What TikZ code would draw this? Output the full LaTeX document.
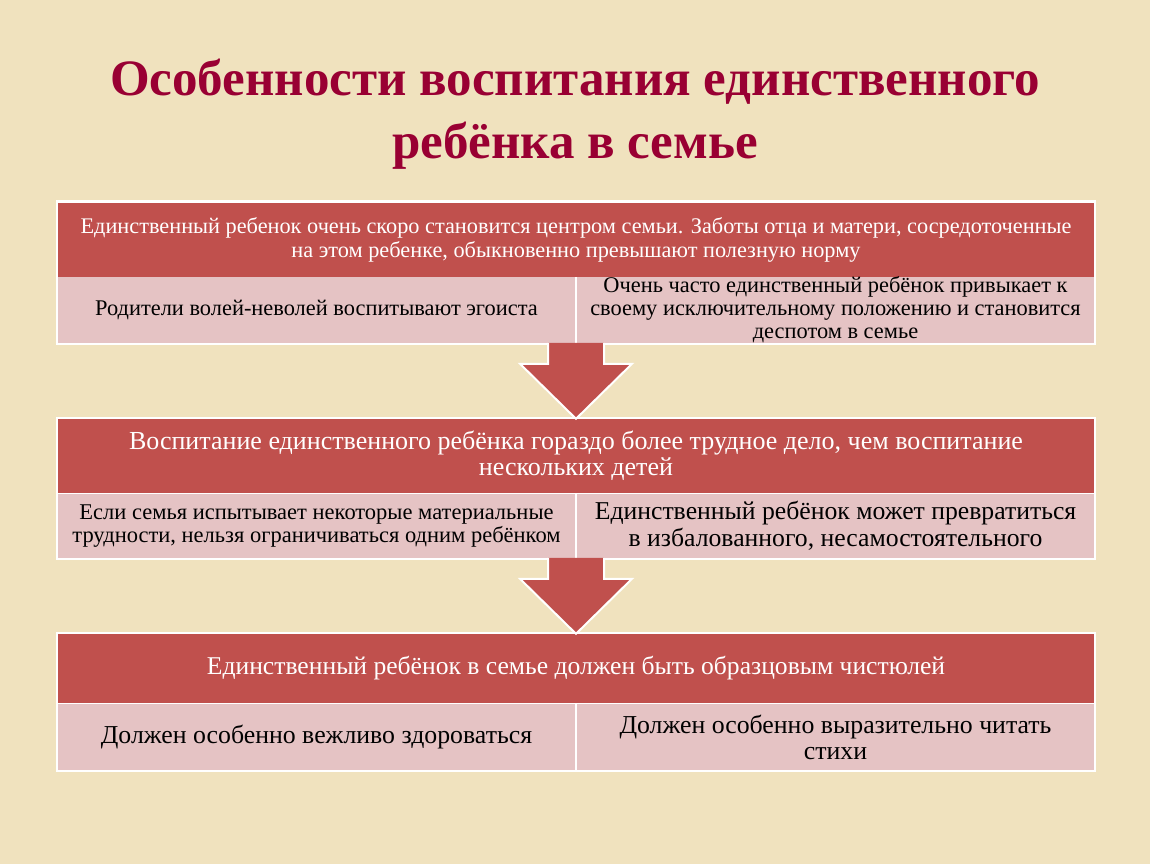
\documentclass[tikz,border=0pt]{standalone}
\usepackage{fontspec}
\setmainfont{Liberation Serif}
\usetikzlibrary{calc}

\definecolor{hdred}{RGB}{192,80,77}
\definecolor{cellpink}{RGB}{229,195,196}
\definecolor{paper}{RGB}{240,226,190}
\definecolor{titlered}{RGB}{153,0,51}

\tikzset{
  head/.style={fill=hdred, text=white, minimum width=1036pt, minimum height=74pt, align=center, inner sep=0pt},
  cell/.style={fill=cellpink, text=black, minimum width=517pt, minimum height=66pt, align=center, inner sep=0pt},
  blockarrow/.style={fill=hdred, draw=white, line width=2pt, line join=miter},
  frame/.style={fill=white}
}

\begin{document}
\begin{tikzpicture}[x=1pt,y=-1pt]
        \fill[paper] (0,0) rectangle (1150,864);
        \useasboundingbox (0,0) rectangle (1150,864);
        \node[text=titlered, font=\fontsize{51}{63}\selectfont\bfseries, align=center] (title) at (575,114)
            {Особенности воспитания единственного\\ребёнка в семье};
        % first block
        \fill[frame] (56,200) rectangle (1096,345);
        \node[head, font=\fontsize{22.3}{24}\selectfont] (h1) at (576,240)
            {Единственный ребенок очень скоро становится центром семьи. Заботы отца и матери, сосредоточенные\\на этом ребенке, обыкновенно превышают полезную норму};
        \node[cell, font=\fontsize{22.4}{23}\selectfont] (l1) at (316.5,310) {Родители волей-неволей воспитывают эгоиста};
        \node[cell, font=\fontsize{22.4}{23}\selectfont] (r1) at (835.5,310)
            {Очень часто единственный ребёнок привыкает к\\своему исключительному положению и становится\\деспотом в семье};
        % second block
        \fill[frame] (56,417) rectangle (1096,560);
        \node[head, font=\fontsize{26}{26}\selectfont] (h2) at (576,456)
            {Воспитание единственного ребёнка гораздо более трудное дело, чем воспитание\\нескольких детей};
        \node[cell, minimum height=64pt, font=\fontsize{22.5}{23}\selectfont] (l2) at (316.5,526)
            {Если семья испытывает некоторые материальные\\трудности, нельзя ограничиваться одним ребёнком};
        \node[cell, minimum height=64pt, font=\fontsize{25.7}{27}\selectfont] (r2) at (835.5,526)
            {Единственный ребёнок может превратиться\\в избалованного, несамостоятельного};
        % third block
        \fill[frame] (56,632) rectangle (1096,772);
        \node[head, minimum height=69pt, font=\fontsize{25.6}{27}\selectfont] (h3) at (576,668.5)
            {Единственный ребёнок в семье должен быть образцовым чистюлей};
        \node[cell, font=\fontsize{25.8}{26}\selectfont] (l3) at (316.5,737) {Должен особенно вежливо здороваться};
        \node[cell, font=\fontsize{25.8}{26}\selectfont] (r3) at (835.5,737)
            {Должен особенно выразительно читать\\стихи};
        % arrows
        \filldraw[blockarrow] ($(h2.north)+(-28,-76)$) -- ($(h2.north)+(-28,-55)$) -- ($(h2.north)+(-56,-55)$)
            -- (h2.north) -- ($(h2.north)+(56,-55)$) -- ($(h2.north)+(28,-55)$) -- ($(h2.north)+(28,-76)$);
        \filldraw[blockarrow] ($(h3.north)+(-28,-76)$) -- ($(h3.north)+(-28,-55)$) -- ($(h3.north)+(-56,-55)$)
            -- (h3.north) -- ($(h3.north)+(56,-55)$) -- ($(h3.north)+(28,-55)$) -- ($(h3.north)+(28,-76)$);
\end{tikzpicture}
\end{document}
